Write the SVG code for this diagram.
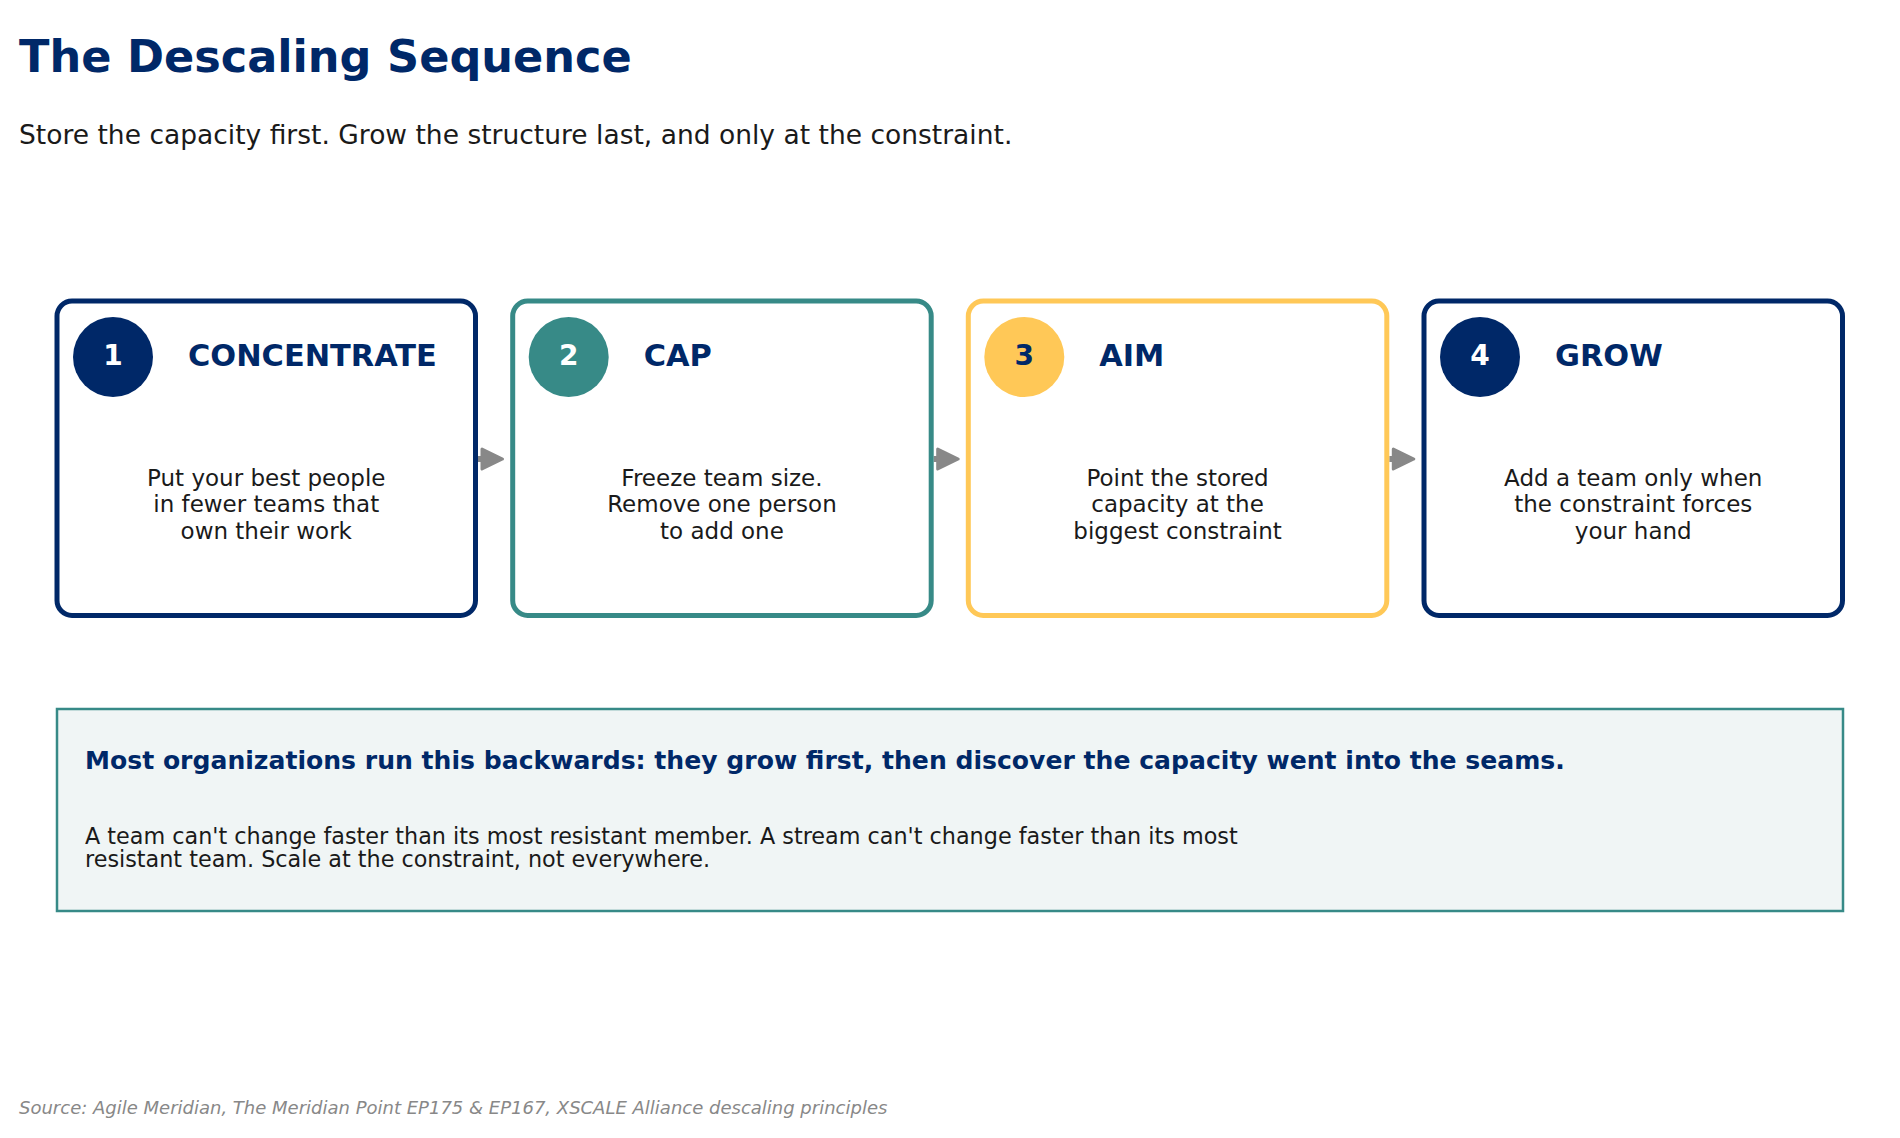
<svg xmlns="http://www.w3.org/2000/svg" width="1900" height="1138" viewBox="0 0 1900 1138">
<defs>
<style>
text{font-family:"DejaVu Sans","Liberation Sans",sans-serif}
.title{font-size:44.6px;font-weight:bold;fill:#002868}
.sub{font-size:26.5px;fill:#1a1a1a}
.card{fill:#fff;stroke-width:5}
.num{font-size:28px;font-weight:bold;text-anchor:middle}
.head{font-size:30.4px;font-weight:bold;fill:#002868}
.body{font-size:23px;fill:#1a1a1a;text-anchor:middle}
.arrow{fill:#888;stroke:#888;stroke-width:3;stroke-linejoin:round}
.shaft{stroke:#888;stroke-width:6}
.callout{fill:#F0F5F5;stroke:#378A87;stroke-width:2.5}
.chead{font-size:25.1px;font-weight:bold;fill:#002868}
.cbody{font-size:22.3px;fill:#1a1a1a}
.src{font-size:18px;font-style:italic;fill:#888}
</style>
</defs>
<rect width="1900" height="1138" fill="#fff"/>
<text class="title" x="19" y="72">The Descaling Sequence</text>
<text class="sub" x="19" y="144">Store the capacity first. Grow the structure last, and only at the constraint.</text>

<g id="connectors">
<line class="shaft" x1="478" y1="459" x2="484" y2="459"/>
<polygon class="arrow" points="482,449 502.5,459 482,469"/>
<line class="shaft" x1="933.7" y1="459" x2="939.7" y2="459"/>
<polygon class="arrow" points="937.7,449 958.2,459 937.7,469"/>
<line class="shaft" x1="1389.3" y1="459" x2="1395.3" y2="459"/>
<polygon class="arrow" points="1393.3,449 1413.8,459 1393.3,469"/>
</g>

<g id="step1">
<rect class="card" x="57" y="301" width="418.5" height="314.5" rx="15" stroke="#002868"/>
<circle cx="113" cy="357" r="40" fill="#002868"/>
<text class="num" x="113" y="364.5" fill="#fff">1</text>
<text class="head" x="188" y="366">CONCENTRATE</text>
<text class="body" x="266.25" y="485.5">Put your best people</text>
<text class="body" x="266.25" y="512">in fewer teams that</text>
<text class="body" x="266.25" y="538.5">own their work</text>
</g>

<g id="step2">
<rect class="card" x="512.7" y="301" width="418.5" height="314.5" rx="15" stroke="#378A87"/>
<circle cx="568.7" cy="357" r="40" fill="#378A87"/>
<text class="num" x="568.7" y="364.5" fill="#fff">2</text>
<text class="head" x="643.7" y="366">CAP</text>
<text class="body" x="721.95" y="485.5">Freeze team size.</text>
<text class="body" x="721.95" y="512">Remove one person</text>
<text class="body" x="721.95" y="538.5">to add one</text>
</g>

<g id="step3">
<rect class="card" x="968.3" y="301" width="418.5" height="314.5" rx="15" stroke="#FFC857"/>
<circle cx="1024.3" cy="357" r="40" fill="#FFC857"/>
<text class="num" x="1024.3" y="364.5" fill="#002868">3</text>
<text class="head" x="1099.3" y="366">AIM</text>
<text class="body" x="1177.55" y="485.5">Point the stored</text>
<text class="body" x="1177.55" y="512">capacity at the</text>
<text class="body" x="1177.55" y="538.5">biggest constraint</text>
</g>

<g id="step4">
<rect class="card" x="1424" y="301" width="418.5" height="314.5" rx="15" stroke="#002868"/>
<circle cx="1480" cy="357" r="40" fill="#002868"/>
<text class="num" x="1480" y="364.5" fill="#fff">4</text>
<text class="head" x="1555" y="366">GROW</text>
<text class="body" x="1633.25" y="485.5">Add a team only when</text>
<text class="body" x="1633.25" y="512">the constraint forces</text>
<text class="body" x="1633.25" y="538.5">your hand</text>
</g>

<g id="callout">
<rect class="callout" x="57" y="709" width="1786" height="202"/>
<text class="chead" x="85" y="769">Most organizations run this backwards: they grow first, then discover the capacity went into the seams.</text>
<text class="cbody" x="85" y="844">A team can't change faster than its most resistant member. A stream can't change faster than its most</text>
<text class="cbody" x="85" y="867">resistant team. Scale at the constraint, not everywhere.</text>
</g>

<text class="src" x="19" y="1114">Source: Agile Meridian, The Meridian Point EP175 &amp; EP167, XSCALE Alliance descaling principles</text>
</svg>
